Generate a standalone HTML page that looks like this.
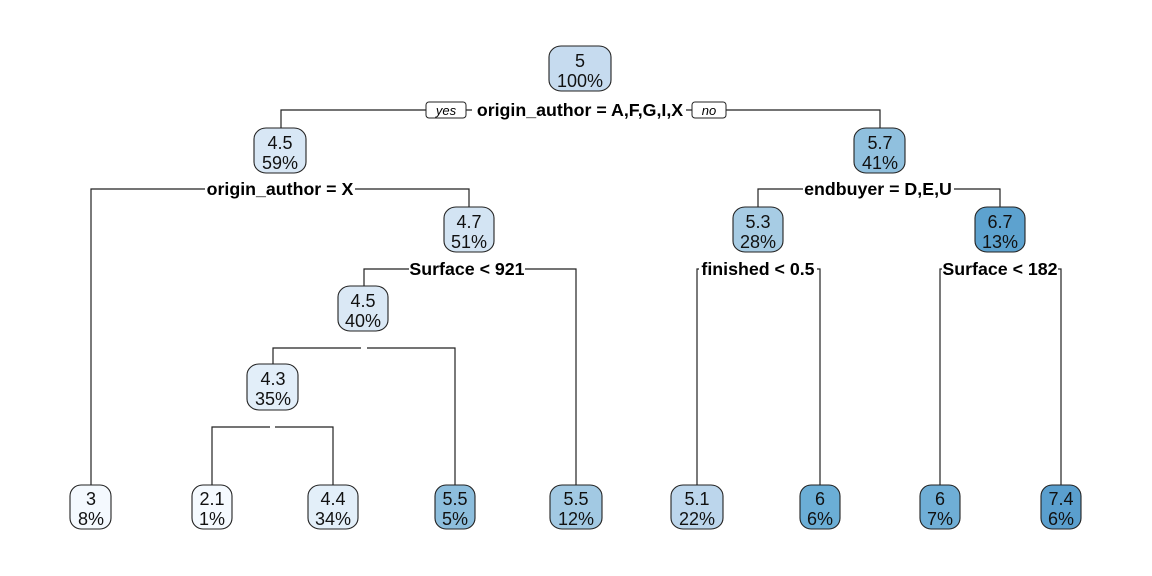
<!DOCTYPE html>
<html><head><meta charset="utf-8"><style>
html,body{margin:0;padding:0;background:#fff;}
svg{display:block;}
text{font-family:"Liberation Sans",Arial,sans-serif;}
.n{font-size:18px;fill:#111;text-anchor:middle;}
.l{font-size:17.8px;font-weight:bold;fill:#000;text-anchor:middle;}
.e{stroke:#222;stroke-width:1.2;fill:none;}
.b{stroke:#222;stroke-width:1.1;}
</style></head><body>
<svg width="1152" height="576" viewBox="0 0 1152 576" xmlns="http://www.w3.org/2000/svg">
<rect width="1152" height="576" fill="#fff"/>
<path class="e" d="M281 128 V110 H880 V128"/>
<path class="e" d="M91 485 V189 H469 V208"/>
<path class="e" d="M758 208 V189 H1000 V208"/>
<path class="e" d="M364 287 V269 H576 V485"/>
<path class="e" d="M697 485 V269 H820 V485"/>
<path class="e" d="M940 485 V269 H1061 V485"/>
<path class="e" d="M273 365 V348 H361 M367 348 H455 V485"/>
<path class="e" d="M212 485 V427 H270 M275 427 H333 V485"/>
<rect x="472" y="100" width="214" height="20" fill="#fff"/>
<text class="l" x="580" y="116">origin_author = A,F,G,I,X</text>
<rect x="426" y="102" width="40" height="16" rx="3" fill="#fff" stroke="#222" stroke-width="1"/>
<text x="446" y="115" font-size="13" font-style="italic" text-anchor="middle">yes</text>
<rect x="692" y="102" width="34" height="16" rx="3" fill="#fff" stroke="#222" stroke-width="1"/>
<text x="709" y="115" font-size="13" font-style="italic" text-anchor="middle">no</text>
<rect x="205" y="179" width="150" height="20" fill="#fff"/>
<text class="l" x="280" y="195">origin_author = X</text>
<rect x="803" y="179" width="151" height="20" fill="#fff"/>
<text class="l" x="878" y="195">endbuyer = D,E,U</text>
<rect x="409" y="259" width="116" height="20" fill="#fff"/>
<text class="l" x="467" y="275">Surface &lt; 921</text>
<rect x="699" y="259" width="118" height="20" fill="#fff"/>
<text class="l" x="758" y="275">finished &lt; 0.5</text>
<rect x="942" y="259" width="116" height="20" fill="#fff"/>
<text class="l" x="1000" y="275">Surface &lt; 182</text>
<g>
<rect class="b" x="549" y="46" width="62" height="45" rx="12" ry="11" fill="#c6dbef"/>
<text class="n" x="580" y="67">5</text><text class="n" x="580" y="87">100%</text>

<rect class="b" x="254" y="128" width="52" height="45" rx="12" ry="11" fill="#d8e7f5"/>
<text class="n" x="280" y="149">4.5</text><text class="n" x="280" y="169">59%</text>

<rect class="b" x="854" y="128" width="51" height="45" rx="12" ry="11" fill="#90c0de"/>
<text class="n" x="880" y="149">5.7</text><text class="n" x="880" y="169">41%</text>

<rect class="b" x="444" y="207" width="50" height="45" rx="12" ry="11" fill="#d3e4f3"/>
<text class="n" x="469" y="228">4.7</text><text class="n" x="469" y="248">51%</text>

<rect class="b" x="733" y="207" width="50" height="45" rx="12" ry="11" fill="#a7cce4"/>
<text class="n" x="758" y="228">5.3</text><text class="n" x="758" y="248">28%</text>

<rect class="b" x="975" y="207" width="50" height="45" rx="12" ry="11" fill="#5da2cf"/>
<text class="n" x="1000" y="228">6.7</text><text class="n" x="1000" y="248">13%</text>

<rect class="b" x="338" y="286" width="50" height="45" rx="12" ry="11" fill="#dae8f5"/>
<text class="n" x="363" y="307">4.5</text><text class="n" x="363" y="327">40%</text>

<rect class="b" x="247" y="364" width="51" height="46" rx="12" ry="11" fill="#e2eef9"/>
<text class="n" x="273" y="385">4.3</text><text class="n" x="273" y="405">35%</text>

<rect class="b" x="70" y="485" width="41" height="44" rx="11" ry="11" fill="#f4f9fe"/>
<text class="n" x="91" y="505">3</text><text class="n" x="91" y="525">8%</text>

<rect class="b" x="192" y="485" width="40" height="44" rx="11" ry="11" fill="#f5faff"/>
<text class="n" x="212" y="505">2.1</text><text class="n" x="212" y="525">1%</text>

<rect class="b" x="308" y="485" width="50" height="44" rx="12" ry="11" fill="#e3eff9"/>
<text class="n" x="333" y="505">4.4</text><text class="n" x="333" y="525">34%</text>

<rect class="b" x="435" y="485" width="40" height="44" rx="11" ry="11" fill="#8dbedd"/>
<text class="n" x="455" y="505">5.5</text><text class="n" x="455" y="525">5%</text>

<rect class="b" x="550" y="485" width="52" height="44" rx="12" ry="11" fill="#a2c9e3"/>
<text class="n" x="576" y="505">5.5</text><text class="n" x="576" y="525">12%</text>

<rect class="b" x="671" y="485" width="52" height="44" rx="12" ry="11" fill="#bcd6ec"/>
<text class="n" x="697" y="505">5.1</text><text class="n" x="697" y="525">22%</text>

<rect class="b" x="800" y="485" width="40" height="44" rx="11" ry="11" fill="#6baed6"/>
<text class="n" x="820" y="505">6</text><text class="n" x="820" y="525">6%</text>

<rect class="b" x="920" y="485" width="40" height="44" rx="11" ry="11" fill="#6faed6"/>
<text class="n" x="940" y="505">6</text><text class="n" x="940" y="525">7%</text>

<rect class="b" x="1041" y="485" width="40" height="44" rx="11" ry="11" fill="#5a9fce"/>
<text class="n" x="1061" y="505">7.4</text><text class="n" x="1061" y="525">6%</text>
</g>
</svg>
</body></html>
